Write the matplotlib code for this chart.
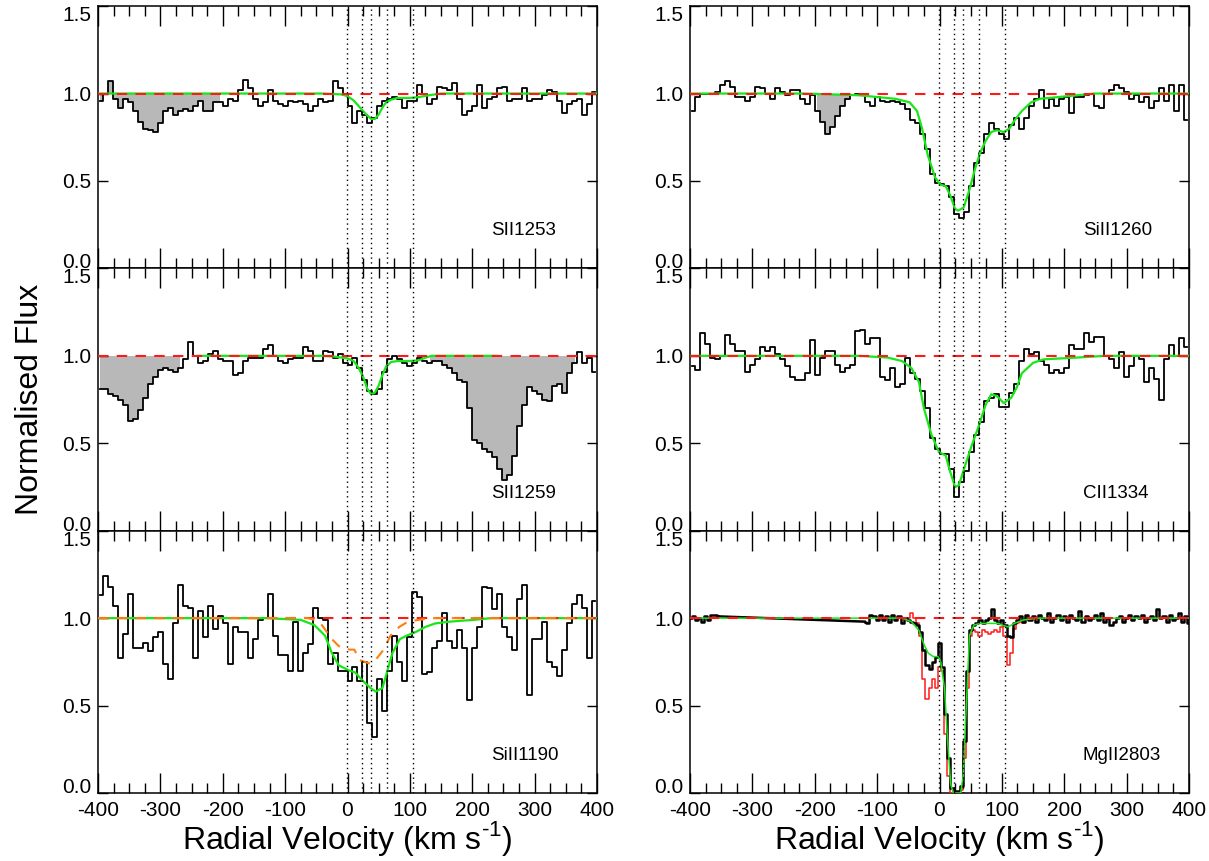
import numpy as np
import matplotlib
matplotlib.use('Agg')
import matplotlib.pyplot as plt
from matplotlib.ticker import MultipleLocator

# --- Fonts ---
plt.rcParams['font.family'] = 'Liberation Sans'
plt.rcParams['mathtext.fontset'] = 'custom'
plt.rcParams['mathtext.rm'] = 'Liberation Sans'
plt.rcParams['axes.unicode_minus'] = False

# --- Data ---
vel = np.arange(-396, 400, 8)          # bin centres, km/s
comp_vel = [-1, 24, 38, 63, 105]       # component positions (dotted lines)

s1253_flux = [0.96, 1.00, 1.07, 0.97, 0.92, 0.97, 0.95, 0.90, 0.84, 0.80,
              0.79, 0.78, 0.83, 0.90, 0.92, 0.88, 0.90, 0.91, 0.90, 0.93,
              0.96, 0.90, 0.90, 0.95, 0.95, 0.93, 0.97, 0.96, 1.02, 1.08,
              1.03, 0.97, 0.93, 0.95, 1.02, 0.96, 0.94, 0.93, 0.96, 0.95,
              0.96, 0.94, 0.90, 0.93, 0.97, 0.95, 0.96, 1.07, 1.03, 0.99,
              0.93, 0.83, 0.90, 0.88, 0.83, 0.86, 0.93, 0.96, 0.97, 0.98,
              0.97, 0.92, 0.96, 0.96, 1.05, 1.00, 0.94, 0.97, 1.04, 1.03,
              1.02, 1.06, 0.97, 0.88, 0.90, 0.93, 1.05, 0.92, 0.97, 0.98,
              1.03, 1.04, 0.96, 0.97, 0.97, 1.03, 0.96, 0.97, 0.97, 0.99,
              1.02, 1.01, 0.96, 0.89, 0.94, 0.96, 0.97, 0.88, 0.94, 1.01]
s1253_fit_v = [-400, -40, -10, 0, 10, 20, 30, 38, 44, 50, 56, 62, 70, 80, 100, 115, 130, 150, 400]
s1253_fit_f = [1.0, 1.0, 0.995, 0.985, 0.96, 0.92, 0.88, 0.855, 0.855, 0.88, 0.92, 0.95,
               0.965, 0.975, 0.975, 0.98, 0.99, 1.0, 1.0]
s1253_blends = [(-400, -200)]

s1259_flux = [0.81, 0.81, 0.78, 0.77, 0.75, 0.72, 0.63, 0.64, 0.69, 0.76,
              0.84, 0.88, 0.92, 0.93, 0.92, 0.91, 0.93, 0.98, 1.08, 1.00,
              0.96, 0.97, 1.01, 1.03, 0.98, 0.97, 0.97, 0.89, 0.90, 0.97,
              0.99, 0.99, 0.99, 1.04, 1.06, 1.00, 0.97, 0.96, 0.98, 0.99,
              0.99, 1.05, 1.03, 0.97, 0.97, 1.03, 1.02, 0.99, 1.01, 0.96,
              0.95, 0.99, 0.93, 0.86, 0.80, 0.78, 0.81, 0.91, 0.98, 1.00,
              0.98, 0.96, 0.94, 0.96, 0.99, 0.97, 0.96, 0.97, 0.97, 0.95,
              0.93, 0.90, 0.86, 0.85, 0.70, 0.52, 0.50, 0.47, 0.45, 0.42,
              0.35, 0.29, 0.32, 0.43, 0.60, 0.72, 0.82, 0.80, 0.78, 0.75,
              0.74, 0.83, 0.84, 0.79, 0.90, 0.96, 1.02, 0.96, 0.99, 0.91]
s1259_fit_v = [-240, -40, -20, 0, 10, 18, 25, 32, 38, 44, 50, 56, 62, 70, 80, 100, 115, 125, 135, 240]
s1259_fit_f = [1.0, 1.0, 0.995, 0.985, 0.97, 0.93, 0.88, 0.81, 0.78, 0.79, 0.83, 0.89, 0.94,
               0.965, 0.97, 0.97, 0.975, 0.99, 1.0, 1.0]
s1259_blends = [(-400, -265), (130, 368)]

si1190_flux = [1.13, 1.24, 1.18, 1.07, 0.77, 0.91, 1.14, 0.83, 0.83, 0.86,
               0.81, 0.89, 0.92, 0.74, 0.65, 0.97, 1.19, 1.07, 1.06, 0.77,
               1.04, 0.89, 1.07, 0.94, 1.01, 0.97, 0.74, 0.95, 0.92, 0.92,
               0.77, 0.88, 0.99, 1.00, 1.14, 0.90, 0.79, 0.79, 0.70, 0.98,
               0.70, 0.80, 0.85, 1.06, 1.00, 0.99, 0.74, 0.80, 0.70, 0.70,
               0.64, 0.72, 0.64, 0.75, 0.40, 0.32, 0.65, 0.47, 0.70, 0.90,
               0.75, 0.64, 0.89, 1.15, 1.12, 0.68, 0.69, 0.83, 0.87, 1.03,
               0.87, 0.83, 0.93, 0.83, 0.53, 0.83, 0.95, 1.18, 1.17, 1.05,
               1.14, 0.95, 0.89, 0.82, 1.11, 1.19, 0.56, 0.88, 0.88, 0.98,
               0.75, 0.72, 0.67, 0.82, 0.97, 1.08, 1.13, 1.06, 0.77, 1.10]
si1190_fit_v = [-400, -130, -75, -53, -36, -25, -14, 3, 12, 25, 37, 45, 56, 64, 72, 84, 95,
                109, 125, 141, 164, 202, 230, 400]
si1190_fit_f = [1.0, 1.0, 0.99, 0.96, 0.9, 0.8, 0.73, 0.7, 0.69, 0.64, 0.6, 0.58, 0.6, 0.7,
                0.8, 0.88, 0.9, 0.92, 0.95, 0.97, 0.98, 0.99, 1.0, 1.0]
si1190_alt_v = [-400, -64, -52, -41, -25, -14, 3, 11, 19, 36, 47, 58, 69, 83, 97, 114, 136, 400]
si1190_alt_f = [1.0, 1.0, 0.99, 0.96, 0.88, 0.84, 0.82, 0.82, 0.76, 0.74, 0.77, 0.82, 0.9,
                0.95, 0.98, 0.99, 1.0, 1.0]

si1260_flux = [0.90, 0.98, 1.00, 1.00, 1.00, 1.01, 1.05, 1.07, 1.04, 0.98,
               0.98, 0.96, 0.98, 1.04, 1.03, 1.00, 0.97, 1.03, 1.01, 0.99,
               1.02, 1.02, 0.97, 0.94, 0.99, 0.90, 0.84, 0.77, 0.81, 0.87,
               0.93, 0.97, 0.99, 1.00, 0.99, 0.95, 0.93, 0.98, 0.96, 0.95,
               0.96, 0.95, 0.94, 0.91, 0.85, 0.83, 0.77, 0.68, 0.54, 0.49,
               0.48, 0.47, 0.41, 0.31, 0.29, 0.32, 0.47, 0.60, 0.66, 0.77,
               0.83, 0.80, 0.77, 0.74, 0.82, 0.86, 0.80, 0.86, 0.93, 0.97,
               1.02, 0.92, 0.97, 0.93, 0.97, 0.98, 0.89, 0.98, 0.98, 0.99,
               1.00, 0.93, 0.92, 1.00, 1.02, 1.05, 1.03, 1.01, 0.97, 0.99,
               0.95, 0.98, 0.92, 0.96, 1.03, 0.96, 1.05, 0.90, 1.05, 0.85]
si1260_fit_v = [-400, -217, -129, -71, -48, -36, -28, -19, -7, 1, 10, 17, 25, 30, 39, 48, 57,
                65, 74, 83, 92, 103, 112, 121, 132, 147, 161, 191, 220, 249, 400]
si1260_fit_f = [1.0, 1.0, 0.99, 0.97, 0.95, 0.9, 0.8, 0.65, 0.52, 0.48, 0.47, 0.42, 0.34,
                0.33, 0.35, 0.45, 0.57, 0.66, 0.73, 0.78, 0.79, 0.78, 0.8, 0.85, 0.9, 0.95,
                0.97, 0.98, 0.99, 1.0, 1.0]
si1260_blends = [(-196, -124)]

c1334_flux = [0.94, 0.92, 1.13, 1.07, 0.99, 0.98, 1.00, 1.12, 1.07, 1.03,
              1.03, 0.91, 0.95, 0.98, 1.05, 1.03, 1.05, 1.01, 0.98, 0.94,
              0.88, 0.86, 0.86, 0.90, 1.09, 0.89, 0.99, 1.03, 1.03, 0.95,
              0.91, 0.93, 0.95, 1.14, 1.15, 1.07, 1.10, 1.10, 0.88, 0.86,
              0.93, 0.82, 0.84, 0.99, 0.90, 0.87, 0.80, 0.70, 0.53, 0.47,
              0.44, 0.44, 0.35, 0.19, 0.28, 0.34, 0.45, 0.55, 0.62, 0.74,
              0.76, 0.78, 0.71, 0.71, 0.79, 0.84, 0.97, 1.04, 1.01, 1.02,
              0.97, 0.95, 0.90, 0.92, 0.90, 0.93, 1.06, 1.04, 1.04, 1.13,
              1.08, 1.11, 1.11, 1.00, 0.98, 0.93, 1.02, 0.88, 0.94, 1.00,
              0.98, 0.85, 0.93, 0.87, 0.75, 0.98, 1.06, 1.00, 1.10, 1.05]
c1334_fit_v = [-400, -129, -83, -60, -45, -33, -25, -13, -1, 10, 16, 25, 31, 39, 51, 63, 74,
               83, 92, 103, 115, 124, 132, 150, 167, 220, 266, 400]
c1334_fit_f = [1.0, 1.0, 0.99, 0.97, 0.93, 0.85, 0.7, 0.55, 0.45, 0.43, 0.35, 0.25, 0.26,
               0.35, 0.48, 0.6, 0.72, 0.78, 0.77, 0.73, 0.76, 0.82, 0.9, 0.96, 0.98, 0.99,
               1.0, 1.0]

# MgII 2803 (higher resolution, with a data gap) and MgII 2796 overlay
mg_vel_a = np.arange(-400, -354, 5)
mg_flux_a = [1.0, 1.01, 0.99, 1.0, 0.98, 1.01, 0.99, 1.02, 1.02, 1.01]
mg_vel_b = np.arange(-120, 401, 5)
mg_flux_b = [0.98, 0.97, 1.02, 1.01, 0.99, 1.02, 0.99, 1.01, 0.98, 1.02,
             0.99, 1.01, 0.97, 1.0, 0.99, 0.98, 0.97, 0.96, 0.92, 0.82,
             0.73, 0.71, 0.75, 0.78, 0.86, 0.72, 0.45, 0.2, 0.03, 0.01,
             0.01, 0.04, 0.3, 0.7, 0.93, 0.96, 0.97, 0.99, 0.97, 0.99,
             1.0, 1.05, 0.99, 0.97, 0.99, 0.96, 0.9, 0.89, 0.97, 0.99,
             1.01, 0.98, 1.02, 0.99, 1.01, 0.98, 1.02, 1.0, 0.99, 1.03,
             0.98, 1.0, 1.02, 0.99, 1.01, 0.98, 1.02, 1.0, 0.99, 1.04,
             0.98, 1.01, 0.99, 1.0, 1.02, 0.99, 1.03, 0.98, 1.0, 0.96,
             0.98, 1.0, 1.01, 0.98, 1.0, 1.02, 0.99, 1.01, 1.0, 1.02,
             0.98, 1.0, 1.01, 0.99, 1.05, 1.0, 1.01, 0.98, 1.02, 0.99,
             1.0, 1.03, 0.98, 1.01, 0.97]
mg2796_vel = np.arange(-50, 151, 5)
mg2796_flux = [1.0, 1.03, 1.0, 0.97, 0.9, 0.65, 0.54, 0.6, 0.65, 0.6,
               0.72, 0.7, 0.34, 0.1, 0.0, 0.0, 0.0, 0.02, 0.2, 0.6,
               0.9, 0.93, 0.92, 0.9, 0.93, 0.92, 0.91, 0.92, 0.93, 0.92,
               0.95, 0.9, 0.73, 0.8, 0.94, 0.97, 0.98, 0.97, 1.0, 0.99,
               1.0]
mg_fit_v = [-400, -60, -45, -33, -25, -18, -10, -2, 2, 8, 13, 18, 22, 34, 38, 43, 48, 55, 65,
            95, 100, 110, 120, 135, 160, 400]
mg_fit_f = [1.0, 1.0, 0.98, 0.93, 0.85, 0.8, 0.78, 0.78, 0.75, 0.6, 0.3, 0.05, 0.0, 0.0, 0.1,
            0.5, 0.9, 0.96, 0.97, 0.97, 0.96, 0.95, 0.97, 0.99, 1.0, 1.0]

# --- Figure layout ---
fig = plt.figure(figsize=(12.09, 8.61), dpi=100)
col_left = [98 / 1209, 690 / 1209]
ax_w = 499 / 1209
ax_h = 262.3 / 861
bottom0 = 1 - 793 / 861

GREEN = '#19e619'
RED = '#ff1a1a'
ORANGE = '#ff7f0e'


def setup_axis(ax, bottom_row):
    ax.set_xlim(-400, 400)
    ax.set_ylim(0, 1.5)
    ax.xaxis.set_major_locator(MultipleLocator(100))
    ax.xaxis.set_minor_locator(MultipleLocator(25))
    ax.set_yticks([0.0, 0.5, 1.0, 1.5])
    labels = ax.set_yticklabels(['0.0', '0.5', '1.0', '1.5'])
    # end labels sit slightly inside the panel, as in the original
    labels[0].set_va('baseline')
    labels[-1].set_va('top')
    ax.tick_params(axis='x', which='major', direction='in', length=14.5, width=1,
                   top=True, bottom=True, labelsize=15, pad=6, labelbottom=bottom_row)
    ax.tick_params(axis='x', which='minor', direction='in', length=7.2, width=1,
                   top=True, bottom=True)
    ax.tick_params(axis='y', which='major', direction='in', length=7.2, width=1,
                   left=True, right=True, labelsize=15, pad=5)
    for sp in ax.spines.values():
        sp.set_linewidth(1.1)


def draw_panel(ax, v, flux, fit_v, fit_f, label, blends=()):
    flux = np.asarray(flux)
    for lo, hi in blends:
        mask = (v >= lo) & (v <= hi)
        ax.fill_between(v, flux, 1.0, where=mask, step='mid', color='#b8b8b8',
                        linewidth=0, zorder=1)
    ax.step(v, flux, where='mid', color='black', lw=1.3, zorder=3)
    ax.plot(fit_v, fit_f, color=GREEN, lw=1.6, zorder=4)
    ax.axhline(1.0, color=RED, lw=1.5, ls=(0, (5, 4)), zorder=5)
    ax.text(230, 0.215, label, fontsize=13.5, va='center', ha='left')


def draw_comps(ax):
    for cv in comp_vel:
        ax.axvline(cv, color='black', lw=1.0, ls=(0, (1, 2.5)), zorder=6)


axes = {}
for col in range(2):
    for row in range(3):
        ax = fig.add_axes([col_left[col], bottom0 + (2 - row) * ax_h, ax_w, ax_h])
        setup_axis(ax, row == 2)
        axes[(row, col)] = ax

# --- Left column ---
draw_panel(axes[(0, 0)], vel, s1253_flux, s1253_fit_v, s1253_fit_f, 'SII1253', s1253_blends)
draw_panel(axes[(1, 0)], vel, s1259_flux, s1259_fit_v, s1259_fit_f, 'SII1259', s1259_blends)
ax = axes[(2, 0)]
draw_panel(ax, vel, si1190_flux, si1190_fit_v, si1190_fit_f, 'SiII1190')
ax.plot(si1190_alt_v, si1190_alt_f, color=ORANGE, lw=1.5, ls=(0, (5, 4)), zorder=5)

# --- Right column ---
draw_panel(axes[(0, 1)], vel, si1260_flux, si1260_fit_v, si1260_fit_f, 'SiII1260', si1260_blends)
draw_panel(axes[(1, 1)], vel, c1334_flux, c1334_fit_v, c1334_fit_f, 'CII1334')

ax = axes[(2, 1)]
ax.plot(mg_fit_v, mg_fit_f, color=GREEN, lw=1.1, zorder=4)
ax.step(mg2796_vel, mg2796_flux, where='mid', color=RED, lw=1.1, zorder=3)
ax.step(mg_vel_a, mg_flux_a, where='mid', color='black', lw=1.8, zorder=3.5)
ax.step(mg_vel_b, mg_flux_b, where='mid', color='black', lw=1.8, zorder=3.5)
ax.plot([mg_vel_a[-1], mg_vel_b[0]], [mg_flux_a[-1], mg_flux_b[0]], color='black', lw=1.8, zorder=3.5)
ax.axhline(1.0, color=RED, lw=1.5, ls=(0, (5, 4)), zorder=5)
ax.text(230, 0.215, 'MgII2803', fontsize=13.5, va='center', ha='left')

for ax in axes.values():
    draw_comps(ax)

# --- Axis titles ---
fig.text(0.025, bottom0 + 1.5 * ax_h, 'Normalised Flux', rotation=90, fontsize=23,
         ha='center', va='center')
for col in range(2):
    fig.text(col_left[col] + ax_w / 2, 1 - 838 / 861,
             r'Radial Velocity (km s$^{\mathregular{\text{-}1}}$)',
             fontsize=23, ha='center', va='center')

plt.savefig('out.png', dpi=100)
